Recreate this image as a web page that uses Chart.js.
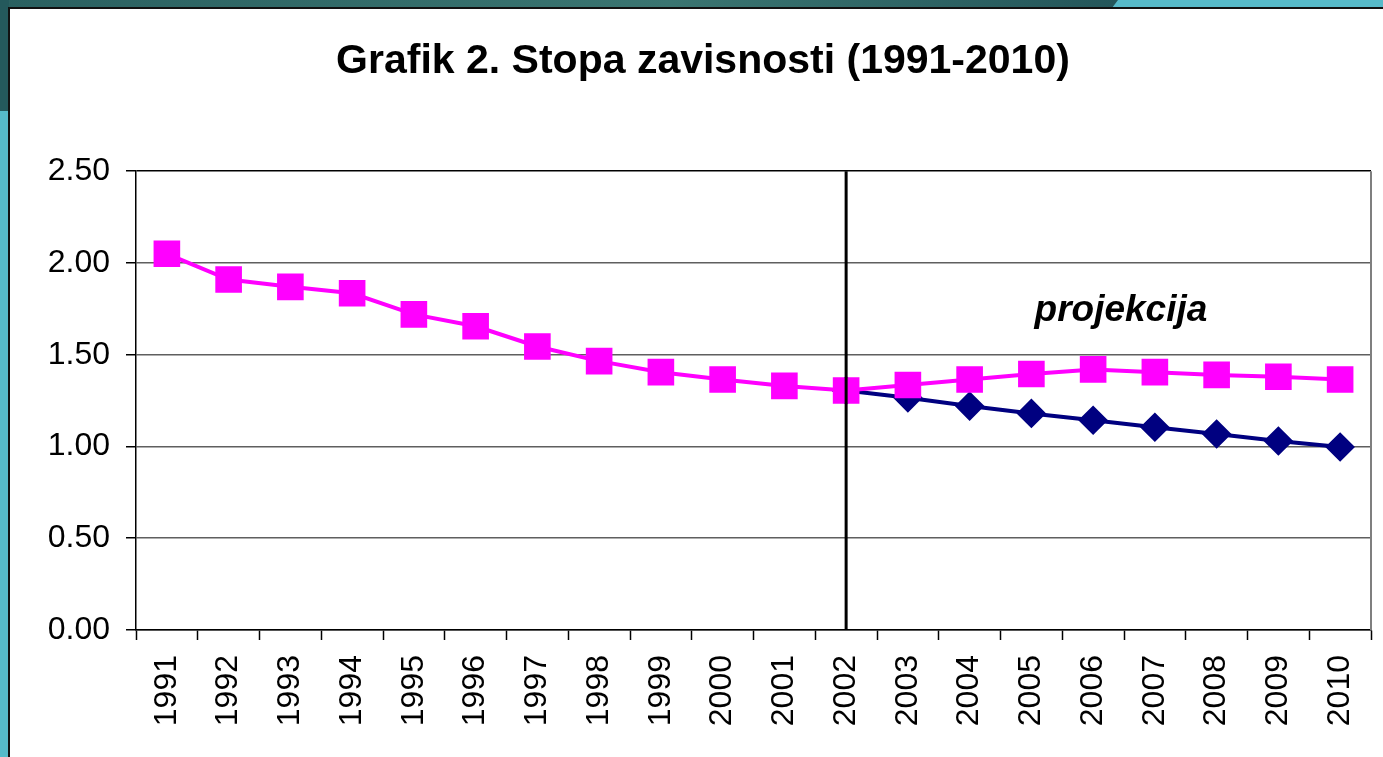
<!DOCTYPE html>
<html>
<head>
<meta charset="utf-8">
<title>Grafik 2. Stopa zavisnosti</title>
<script src="https://cdn.jsdelivr.net/npm/chart.js@4.4.1/dist/chart.umd.min.js"></script>
<style>
  html, body { margin: 0; padding: 0; }
  body { width: 1383px; height: 757px; position: relative; overflow: hidden; background: #56bac9; }
  /* pozadina slajda */
  .tamno-gore { position: absolute; left: 0; top: 0; width: 1118px; height: 8px;
    background: linear-gradient(90deg, #2a6060, #3a7571 60%, #24565a);
    clip-path: polygon(0 0, 100% 0, calc(100% - 6px) 100%, 0 100%); }
  .tamno-lijevo { position: absolute; left: 0; top: 0; width: 9px; height: 111px; background: #24595c; }
  .panel { position: absolute; left: 8px; top: 7px; right: 0; bottom: 0; background: #fff;
    border-top: 2px solid #111; border-left: 2px solid #111; }
  /* platno pomjereno da naslov bude centriran kao na originalu */
  #grafik { position: absolute; left: 35px; top: 0; }
</style>
</head>
<body>
<div class="tamno-gore"></div>
<div class="tamno-lijevo"></div>
<div class="panel"></div>
<canvas id="grafik" width="1348" height="757"></canvas>

<script>
// podaci očitani sa grafika
const godine = ['1991', '1992', '1993', '1994', '1995', '1996', '1997', '1998', '1999', '2000',
                '2001', '2002', '2003', '2004', '2005', '2006', '2007', '2008', '2009', '2010'];
const stopaVarijanta1 = [2.05, 1.91, 1.87, 1.835, 1.72, 1.655, 1.545, 1.465, 1.405, 1.365,
                         1.33, 1.305, 1.335, 1.365, 1.395, 1.42, 1.405, 1.39, 1.38, 1.365];
const stopaVarijanta2 = [null, null, null, null, null, null, null, null, null, null,
                         null, 1.305, 1.265, 1.22, 1.18, 1.143, 1.105, 1.068, 1.03, 0.997];
const yTicks = [0, 0.5, 1, 1.5, 2, 2.5];
const granicaProjekcije = '2002';
const natpis = 'projekcija';

const FONT = '"Liberation Sans", Arial, sans-serif';

// vertikalna linija, desna ivica i natpis "projekcija"
const projekcijaPlugin = {
    id: 'projekcija',
    afterDatasetsDraw(chart) {
        const { ctx, chartArea, scales } = chart;
        const x = scales.x.getPixelForValue(granicaProjekcije);
        ctx.save();
        ctx.strokeStyle = '#000';
        ctx.lineWidth = 3;
        ctx.beginPath();
        ctx.moveTo(x, chartArea.top);
        ctx.lineTo(x, chartArea.bottom);
        ctx.stroke();

        ctx.strokeStyle = '#7f7f7f';
        ctx.lineWidth = 2;
        ctx.beginPath();
        ctx.moveTo(chartArea.right, chartArea.top);
        ctx.lineTo(chartArea.right, chartArea.bottom);
        ctx.stroke();

        const tx = scales.x.getPixelForValue(15.45);
        const ty = scales.y.getPixelForValue(1.74);
        ctx.fillStyle = '#000';
        ctx.font = 'italic bold 37px ' + FONT;
        ctx.textAlign = 'center';
        ctx.textBaseline = 'middle';
        ctx.fillText(natpis, tx, ty);
        ctx.restore();
    }
};

new Chart(document.getElementById('grafik'), {
    type: 'line',
    data: {
        labels: godine,
        datasets: [
            {
                label: 'Stopa zavisnosti',
                data: stopaVarijanta1,
                borderColor: '#ff00ff',
                backgroundColor: '#ff00ff',
                borderWidth: 4,
                pointStyle: 'rect',
                pointRadius: 16,
                pointHoverRadius: 16,
                tension: 0
            },
            {
                label: 'Stopa zavisnosti (varijanta 2)',
                data: stopaVarijanta2,
                borderColor: '#000080',
                backgroundColor: '#000080',
                borderWidth: 4,
                pointStyle: 'rectRot',
                pointRadius: 12,
                pointHoverRadius: 12,
                tension: 0
            }
        ]
    },
    options: {
        responsive: false,
        animation: false,
        layout: { autoPadding: false, padding: { left: 0, right: 12, top: 0, bottom: 0 } },
        plugins: {
            legend: { display: false },
            tooltip: { enabled: false },
            title: {
                display: true,
                text: 'Grafik 2. Stopa zavisnosti (1991-2010)',
                color: '#000',
                font: { family: FONT, size: 41, weight: 'bold' },
                padding: { top: 37, bottom: 85 }
            }
        },
        scales: {
            x: {
                offset: true,
                afterFit(scale) {
                    scale.height = 127;
                    scale.paddingLeft = 0;
                    scale.paddingRight = 0;
                },
                grid: {
                    display: true,
                    drawOnChartArea: false,
                    offset: true,
                    tickLength: 10,
                    tickColor: '#000',
                    tickWidth: 1.5
                },
                border: { color: '#000', width: 1.5 },
                ticks: {
                    minRotation: 90,
                    maxRotation: 90,
                    autoSkip: false,
                    padding: 15,
                    color: '#000',
                    font: { family: FONT, size: 32 }
                }
            },
            y: {
                min: 0,
                max: 2.5,
                afterFit(scale) { scale.width = 101; },
                afterBuildTicks(scale) { scale.ticks = yTicks.map(v => ({ value: v })); },
                grid: {
                    color: ctx => (ctx.tick && ctx.tick.value === 2.5 ? '#000' : '#5f5f5f'),
                    lineWidth: 1.5,
                    tickLength: 10,
                    tickColor: '#000'
                },
                border: { color: '#000', width: 1.5 },
                ticks: {
                    padding: 16,
                    color: '#000',
                    font: { family: FONT, size: 32 },
                    callback: v => Number(v).toFixed(2)
                }
            }
        }
    },
    plugins: [projekcijaPlugin]
});
</script>
</body>
</html>
